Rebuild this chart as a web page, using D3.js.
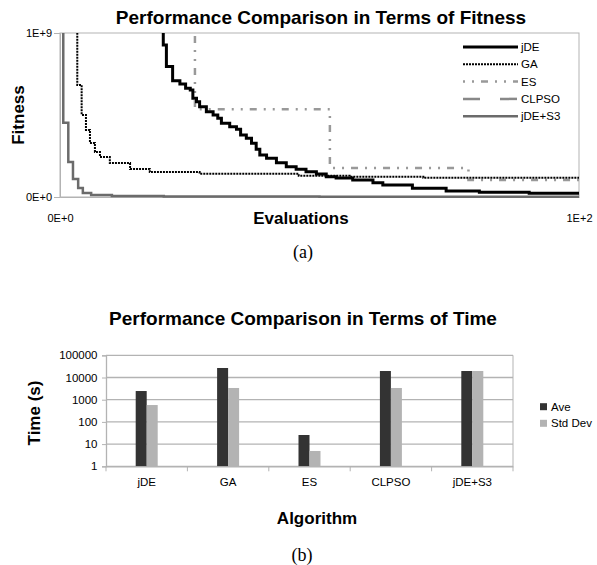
<!DOCTYPE html>
<html lang="en">
  <head>
    <meta charset="UTF-8">
    <title>Performance Comparison</title>
    <script src="https://cdn.jsdelivr.net/npm/d3@7"></script>
    <style>
      html, body {
        margin: 0;
        padding: 0;
        background: #fff;
      }
      body {
        font-family: 'Liberation Sans', Arial, sans-serif;
      }
      .chart-title {
        font-size: 19px;
        font-weight: bold;
      }
      .axis-title {
        font-size: 17px;
        font-weight: bold;
      }
      .caption {
        font-family: 'Liberation Serif', 'Times New Roman', serif;
        font-size: 18px;
      }
      .small {
        font-size: 11.5px;
      }
    </style>
  </head>
  <body>
    <script>
      // ---- (a) fitness curves ----
      const evalTicks = [0, 100];
      const fitTicks = [0, 1e9];

      const jdeEval = [0, 19.9, 20.5, 21.7, 23.1, 24.2, 25.1, 25.6, 26.3, 26.9, 28.2, 29.5, 30.4, 31.1, 32.7, 34.0, 34.8, 35.9, 36.9, 37.8,
        38.5, 39.8, 41.7, 43.6, 45.5, 47.4, 49.4, 51.3, 53.2, 56.4, 60.3, 62.2, 67.9, 74.4, 80.8, 90.4, 100];
      const jdeFit = [3e9, 9.27e8, 7.95e8, 7.09e8, 6.89e8, 6.63e8, 6.52e8, 6.02e8, 5.81e8, 5.51e8, 5.20e8, 5.00e8, 4.80e8, 4.49e8, 4.29e8, 4.13e8, 3.78e8, 3.58e8, 3.27e8, 2.91e8,
        2.56e8, 2.36e8, 2.09e8, 1.84e8, 1.69e8, 1.54e8, 1.40e8, 1.24e8, 1.16e8, 1.04e8, 8.7e7, 7.3e7, 5.3e7, 3.7e7, 2.9e7, 2.3e7, 1.8e7];

      const gaEval = [0, 3.33, 4.17, 5.0, 5.77, 6.73, 7.7, 9.6, 13.5, 17.3, 26.9, 46, 55.8, 70, 100];
      const gaFit = [3e9, 6.83e8, 5.0e8, 4.09e8, 3.29e8, 2.74e8, 2.44e8, 2.07e8, 1.71e8, 1.52e8, 1.42e8, 1.30e8, 1.24e8, 1.18e8, 1.18e8];

      const esEval = [0, 26, 52, 78.7, 100];
      const esFit = [3e9, 5.35e8, 1.77e8, 1.04e8, 1.04e8];

      // CLPSO stays above the plotted range
      const clpsoEval = [0, 100];
      const clpsoFit = [3e9, 3e9];

      const s3Eval = [0, 0.63, 1.6, 2.5, 3.5, 4.4, 6, 10, 20, 50, 100];
      const s3Fit = [3e9, 4.53e8, 2.13e8, 1.10e8, 5.5e7, 2.4e7, 1.2e7, 6e6, 3e6, 2e6, 1e6];

      // ---- (b) time bars ----
      const algorithms = ["jDE", "GA", "ES", "CLPSO", "jDE+S3"];
      const timeAve = [2460, 26800, 25.7, 19600, 19600];
      const timeStd = [575, 3370, 4.9, 3370, 19600];
      const timeTicks = [1, 10, 100, 1000, 10000, 100000];

      const fitnessSeries = [
        { name: "jDE", xs: jdeEval, ys: jdeFit, color: "#000", width: 3, dash: null },
        { name: "GA", xs: gaEval, ys: gaFit, color: "#000", width: 2, dash: "2,1" },
        { name: "ES", xs: esEval, ys: esFit, color: "#999", width: 2.5, dash: "2,7,2,7,7,7" },
        { name: "CLPSO", xs: clpsoEval, ys: clpsoFit, color: "#888", width: 2.5, dash: "17,20" },
        { name: "jDE+S3", xs: s3Eval, ys: s3Fit, color: "#6b6b6b", width: 2.5, dash: null }
      ];

      const sciFmt = (v) => {
        if (v === 0) return "0E+0";
        const e = Math.floor(Math.log10(v));
        return `${v / 10 ** e}E+${e}`;
      };

      const svg = d3.select("body")
        .append("svg")
        .attr("width", 597)
        .attr("height", 565);

      // ================= chart (a) =================
      const fx = d3.scaleLinear().domain([0, 100]).range([60, 579]);
      const fy = d3.scaleLinear().domain([0, 1e9]).range([197, 33]);

      svg.append("rect")
        .attr("x", fx(0))
        .attr("y", fy(1e9))
        .attr("width", fx(100) - fx(0))
        .attr("height", fy(0) - fy(1e9))
        .attr("fill", "none")
        .attr("stroke", "#b3b3b3");

      const yAxisA = svg.append("g")
        .attr("transform", `translate(${fx(0)},0)`)
        .call(d3.axisLeft(fy).tickValues(fitTicks).tickFormat(sciFmt).tickSize(6).tickPadding(2));

      const xAxisA = svg.append("g")
        .attr("transform", `translate(0,${fy(0)})`)
        .call(d3.axisBottom(fx).tickValues(evalTicks).tickFormat(sciFmt).tickSize(0).tickPadding(17));

      [yAxisA, xAxisA].forEach(g => {
        g.select(".domain").attr("stroke", "#b3b3b3");
        g.selectAll(".tick line").attr("stroke", "#b3b3b3");
        g.selectAll("text").attr("font-size", "11px").attr("fill", "#000").attr("font-family", "'Liberation Sans', Arial, sans-serif");
      });

      svg.append("clipPath")
        .attr("id", "plot-clip")
        .append("rect")
        .attr("x", fx(0))
        .attr("y", fy(1e9))
        .attr("width", fx(100) - fx(0))
        .attr("height", fy(0) - fy(1e9) + 2);

      const line = d3.line()
        .x(d => fx(d[0]))
        .y(d => fy(d[1]))
        .curve(d3.curveStepAfter);

      svg.append("g")
        .attr("clip-path", "url(#plot-clip)")
        .selectAll("path")
        .data(fitnessSeries.slice().reverse())
        .enter()
        .append("path")
        .attr("d", s => line(s.xs.map((x, i) => [x, s.ys[i]])))
        .attr("fill", "none")
        .attr("stroke", s => s.color)
        .attr("stroke-width", s => s.width)
        .attr("stroke-dasharray", s => s.dash);

      // legend (a)
      const legA = svg.append("g")
        .selectAll("g")
        .data(fitnessSeries)
        .enter()
        .append("g")
        .attr("transform", (d, i) => `translate(463,${47 + i * 17.3})`);

      legA.append("line")
        .attr("x1", 0)
        .attr("x2", 55)
        .attr("stroke", d => d.color)
        .attr("stroke-width", d => d.width)
        .attr("stroke-dasharray", d => d.dash);

      legA.append("text")
        .attr("class", "small")
        .attr("x", 58)
        .attr("dy", "0.36em")
        .text(d => d.name);

      svg.append("text")
        .attr("class", "chart-title")
        .attr("x", 321)
        .attr("y", 17)
        .attr("dy", "0.36em")
        .attr("text-anchor", "middle")
        .text("Performance Comparison in Terms of Fitness");

      svg.append("text")
        .attr("class", "axis-title")
        .attr("transform", "translate(18,115) rotate(-90)")
        .attr("dy", "0.36em")
        .attr("text-anchor", "middle")
        .text("Fitness");

      svg.append("text")
        .attr("class", "axis-title")
        .attr("x", 301)
        .attr("y", 218)
        .attr("dy", "0.36em")
        .attr("text-anchor", "middle")
        .text("Evaluations");

      svg.append("text")
        .attr("class", "caption")
        .attr("x", 303)
        .attr("y", 253)
        .attr("dy", "0.3em")
        .attr("text-anchor", "middle")
        .text("(a)");

      // ================= chart (b) =================
      const bx = d3.scaleBand().domain(algorithms).range([106, 513]);
      const bx1 = d3.scaleBand().domain(["Ave", "Std Dev"]).range([0, bx.bandwidth()]).paddingOuter(2.7);
      const by = d3.scaleLog().domain([1, 1e5]).range([466.3, 355.3]);
      const barColors = { "Ave": "#333333", "Std Dev": "#b3b3b3" };

      svg.append("g")
        .selectAll("line")
        .data(timeTicks)
        .enter()
        .append("line")
        .attr("x1", bx.range()[0])
        .attr("x2", bx.range()[1])
        .attr("y1", d => by(d))
        .attr("y2", d => by(d))
        .attr("stroke", "#b3b3b3")
        .attr("stroke-width", 1.3);

      svg.append("line")
        .attr("x1", bx.range()[1])
        .attr("x2", bx.range()[1])
        .attr("y1", by(1e5))
        .attr("y2", by(1))
        .attr("stroke", "#b3b3b3");

      const barData = algorithms.flatMap((a, i) => [
        { alg: a, key: "Ave", value: timeAve[i] },
        { alg: a, key: "Std Dev", value: timeStd[i] }
      ]);

      svg.append("g")
        .selectAll("rect")
        .data(barData)
        .enter()
        .append("rect")
        .attr("x", d => bx(d.alg) + bx1(d.key))
        .attr("y", d => by(d.value))
        .attr("width", bx1.bandwidth())
        .attr("height", d => by(1) - by(d.value))
        .attr("fill", d => barColors[d.key]);

      const yAxisB = svg.append("g")
        .attr("transform", `translate(${bx.range()[0]},0)`)
        .call(d3.axisLeft(by).tickValues(timeTicks).tickFormat(d3.format("d")).tickSize(4).tickPadding(4.5));

      const xAxisB = svg.append("g")
        .attr("transform", `translate(0,${by(1)})`)
        .call(d3.axisBottom(bx).tickSize(0).tickPadding(12));

      [yAxisB, xAxisB].forEach(g => {
        g.select(".domain").attr("stroke", "#b3b3b3").attr("stroke-width", 1.3);
        g.selectAll(".tick line").attr("stroke", "#b3b3b3");
        g.selectAll("text").attr("font-size", "11.5px").attr("fill", "#000").attr("font-family", "'Liberation Sans', Arial, sans-serif");
      });

      // category separators
      const bounds = algorithms.map(a => bx(a)).concat([bx.range()[1]]);
      svg.append("g")
        .selectAll("line")
        .data(bounds)
        .enter()
        .append("line")
        .attr("x1", d => d)
        .attr("x2", d => d)
        .attr("y1", by(1))
        .attr("y2", by(1) + 5)
        .attr("stroke", "#b3b3b3");

      // legend (b)
      const legB = svg.append("g")
        .selectAll("g")
        .data(["Ave", "Std Dev"])
        .enter()
        .append("g")
        .attr("transform", (d, i) => `translate(540,${406.7 + i * 16.6})`);

      legB.append("rect")
        .attr("y", -3.5)
        .attr("width", 7)
        .attr("height", 7)
        .attr("fill", d => barColors[d]);

      legB.append("text")
        .attr("class", "small")
        .attr("x", 11)
        .attr("dy", "0.36em")
        .text(d => d);

      svg.append("text")
        .attr("class", "chart-title")
        .attr("x", 303)
        .attr("y", 318)
        .attr("dy", "0.36em")
        .attr("text-anchor", "middle")
        .text("Performance Comparison in Terms of Time");

      svg.append("text")
        .attr("class", "axis-title")
        .attr("transform", "translate(34,413) rotate(-90)")
        .attr("dy", "0.36em")
        .attr("text-anchor", "middle")
        .text("Time (s)");

      svg.append("text")
        .attr("class", "axis-title")
        .attr("x", 317)
        .attr("y", 518)
        .attr("dy", "0.36em")
        .attr("text-anchor", "middle")
        .text("Algorithm");

      svg.append("text")
        .attr("class", "caption")
        .attr("x", 302)
        .attr("y", 556)
        .attr("dy", "0.3em")
        .attr("text-anchor", "middle")
        .text("(b)");
    </script>
  </body>
</html>
